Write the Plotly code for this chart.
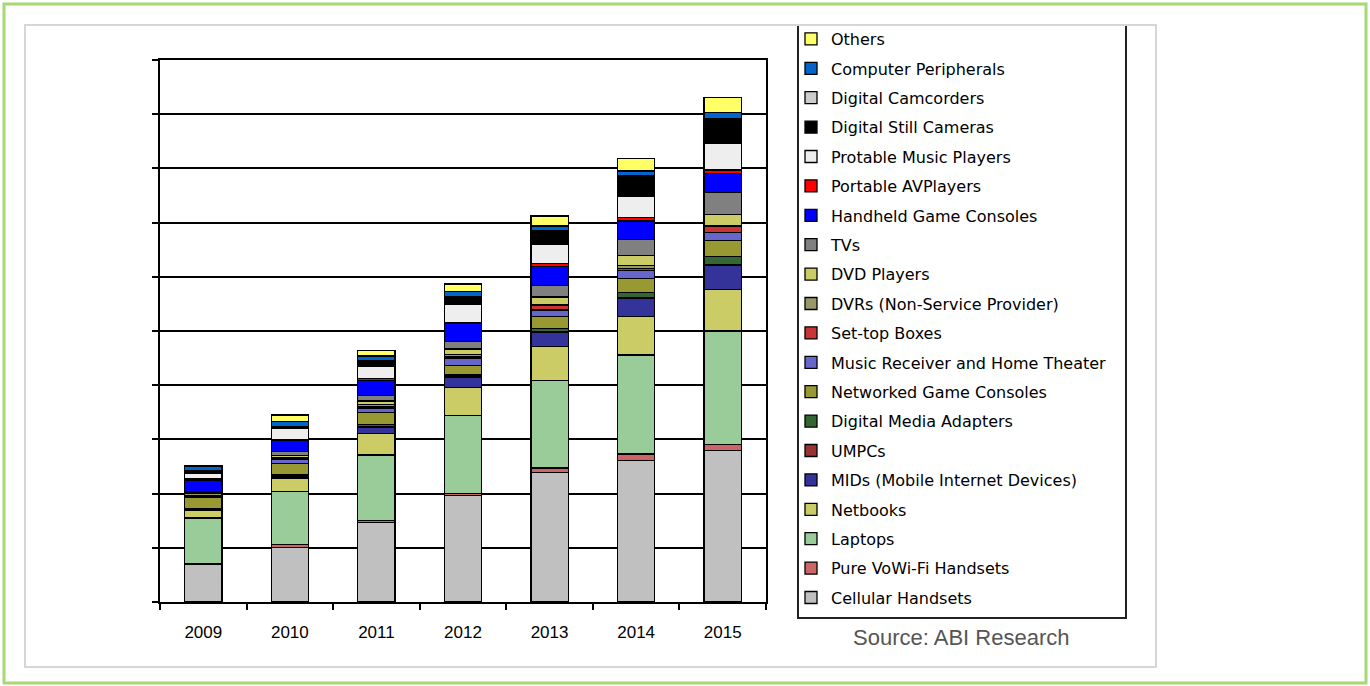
import plotly.graph_objects as go

W, H = 1370, 686
ML, MR, MT, MB = 160, 604, 60, 84

years = ["2009", "2010", "2011", "2012", "2013", "2014", "2015"]

# series listed from the bottom of the stack to the top
cellular_handsets = [0.70, 1.01, 1.47, 1.96, 2.39, 2.61, 2.79]
pure_vowifi = [0.01, 0.05, 0.04, 0.04, 0.08, 0.12, 0.12]
laptops = [0.84, 0.98, 1.20, 1.44, 1.62, 1.83, 2.09]
netbooks = [0.15, 0.25, 0.40, 0.52, 0.63, 0.71, 0.77]
mids = [0.01, 0.03, 0.12, 0.18, 0.26, 0.33, 0.44]
umpcs = [0.00, 0.01, 0.01, 0.01, 0.01, 0.01, 0.01]
digital_media_adapters = [0.01, 0.02, 0.03, 0.04, 0.06, 0.10, 0.15]
networked_game_consoles = [0.22, 0.20, 0.22, 0.18, 0.22, 0.26, 0.30]
music_receiver = [0.02, 0.08, 0.09, 0.12, 0.12, 0.15, 0.15]
set_top_boxes = [0.01, 0.02, 0.03, 0.03, 0.08, 0.03, 0.12]
dvrs = [0.03, 0.02, 0.03, 0.05, 0.01, 0.06, 0.01]
dvd_players = [0.02, 0.03, 0.07, 0.10, 0.15, 0.18, 0.20]
tvs = [0.02, 0.08, 0.10, 0.14, 0.21, 0.30, 0.41]
handheld_consoles = [0.20, 0.21, 0.28, 0.33, 0.35, 0.34, 0.34]
portable_av = [0.03, 0.01, 0.04, 0.02, 0.06, 0.06, 0.07]
music_players = [0.10, 0.20, 0.22, 0.34, 0.34, 0.40, 0.50]
still_cameras = [0.04, 0.03, 0.09, 0.12, 0.25, 0.36, 0.43]
camcorders = [0.01, 0.00, 0.01, 0.01, 0.01, 0.01, 0.01]
computer_peripherals = [0.08, 0.10, 0.09, 0.10, 0.09, 0.09, 0.12]
others = [0.02, 0.12, 0.10, 0.14, 0.18, 0.23, 0.28]

series = [
    ("Cellular Handsets", cellular_handsets, "#C0C0C0"),
    ("Pure VoWi-Fi Handsets", pure_vowifi, "#CC6666"),
    ("Laptops", laptops, "#99CC99"),
    ("Netbooks", netbooks, "#CCCC66"),
    ("MIDs (Mobile Internet Devices)", mids, "#333399"),
    ("UMPCs", umpcs, "#993333"),
    ("Digital Media Adapters", digital_media_adapters, "#336633"),
    ("Networked Game Consoles", networked_game_consoles, "#999933"),
    ("Music Receiver and Home Theater", music_receiver, "#6666CC"),
    ("Set-top Boxes", set_top_boxes, "#CC3333"),
    ("DVRs (Non-Service Provider)", dvrs, "#999966"),
    ("DVD Players", dvd_players, "#CCCC66"),
    ("TVs", tvs, "#808080"),
    ("Handheld Game Consoles", handheld_consoles, "#0000FF"),
    ("Portable AVPlayers", portable_av, "#FF0000"),
    ("Protable Music Players", music_players, "#EEEEEE"),
    ("Digital Still Cameras", still_cameras, "#000000"),
    ("Digital Camcorders", camcorders, "#CCCCCC"),
    ("Computer Peripherals", computer_peripherals, "#0066CC"),
    ("Others", others, "#FFFF66"),
]

fig = go.Figure()
n = len(series)
for i, (name, vals, col) in enumerate(series):
    fig.add_trace(go.Bar(
        x=years, y=vals, name=name, legendgroup=name, legendrank=1000 - i,
        marker=dict(color=col, line=dict(color="#000000", width=1.3)),
    ))

pw = W - ML - MR
ph = H - MT - MB


def px(x):
    return (x - ML) / pw


def py(y):
    return (H - MB - y) / ph


shapes = [
    # outer green frame
    dict(type="rect", xref="paper", yref="paper", x0=px(4), x1=px(1366), y0=py(4), y1=py(683),
         line=dict(color="#A6D873", width=3), layer="below"),
    # inner grey frame
    dict(type="rect", xref="paper", yref="paper", x0=px(25), x1=px(1156), y0=py(25), y1=py(667),
         line=dict(color="#D6D6D6", width=2), layer="below"),
    # legend box (top edge hidden by frame)
    dict(type="path", xref="paper", yref="paper",
         path=f"M {px(798)},{py(26)} L {px(798)},{py(618)} L {px(1126)},{py(618)} L {px(1126)},{py(26)}",
         line=dict(color="#222222", width=2), layer="below"),
]

fig.update_layout(
    width=W, height=H,
    margin=dict(l=ML, r=MR, t=MT, b=MB, autoexpand=False),
    paper_bgcolor="white", plot_bgcolor="white",
    barmode="stack", bargap=0.57,
    font=dict(family="Liberation Sans, Arial, sans-serif", color="#000000"),
    showlegend=True,
    legend=dict(
        x=px(791), y=py(22), xanchor="left", yanchor="top",
        traceorder="grouped", tracegroupgap=5.6, maxheight=660,
        font=dict(family="DejaVu Sans, Verdana, sans-serif", size=16, color="#000000"),
        bgcolor="rgba(0,0,0,0)", borderwidth=0,
    ),
    xaxis=dict(
        type="category", showline=True, linecolor="#000000", linewidth=2, mirror=True,
        ticks="outside", tickson="boundaries", ticklen=6, tickcolor="#000000", tickwidth=1.5,
        showgrid=False, tickfont=dict(size=17, family="Liberation Sans, Arial, sans-serif"),
        ticklabelstandoff=14,
    ),
    yaxis=dict(
        range=[0, 10], dtick=1, showticklabels=False, showline=True, linecolor="#000000",
        linewidth=2, mirror=True, ticks="outside", ticklen=6, tickcolor="#000000", tickwidth=1.5,
        showgrid=True, gridcolor="#000000", gridwidth=1.5, zeroline=False,
    ),
    shapes=shapes,
    annotations=[dict(
        text="Source: ABI Research", xref="paper", yref="paper", x=px(961), y=py(637),
        xanchor="center", yanchor="middle", showarrow=False,
        font=dict(family="Liberation Sans, Arial, sans-serif", size=22, color="#555555"),
    )],
)

fig.write_html("out.html")
